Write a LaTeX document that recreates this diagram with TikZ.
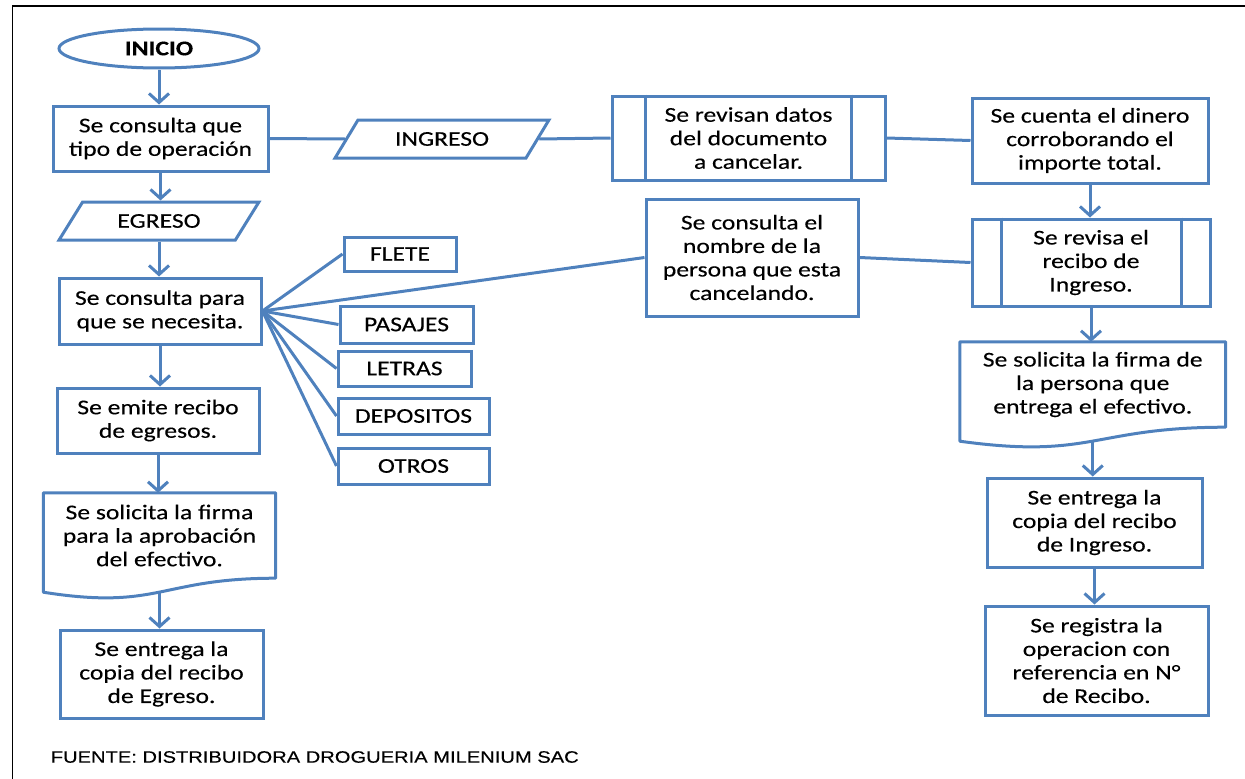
\documentclass[tikz,border=0pt]{standalone}
\usepackage{fontspec}
\setmainfont{Carlito}[FakeStretch=1.22,FakeBold=0.3]
\newfontfamily\footfont{Liberation Sans}[FakeStretch=1.22,FakeBold=0.3]
\usetikzlibrary{shapes.geometric,arrows.meta,calc}
\definecolor{lnblue}{HTML}{4F81BD}
\begin{document}
\begin{tikzpicture}[x=1pt,y=-1pt,
  every node/.style={font=\fontsize{21}{23.5}\selectfont, text=black, align=center, inner sep=0pt},
  blueline/.style={draw=lnblue, line width=3pt},
  box/.style={blueline, rectangle},
  iobox/.style={blueline, trapezium, trapezium left angle=47, trapezium right angle=133, trapezium stretches=true},
  docbox/.style={rectangle, draw=none},
  flow/.style={blueline, -{Straight Barb[length=9pt,width=20pt]}},
  termbox/.style={blueline, ellipse}
]
\useasboundingbox (0,0) rectangle (1245,779);
% frame (cropped)
\draw[black, line width=1.4pt] (12.5,779) -- (12.5,6) -- (1245,6);

% left column
\node[termbox, minimum width=200, minimum height=39, font=\bfseries\fontsize{21}{23.5}\selectfont] (inicio) at (159,48.5) {INICIO};
\node[box, minimum width=215, minimum height=65] (b1) at (160.5,138.5) {Se consulta que\\tipo de operación};
\node[iobox, minimum width=200, minimum height=38] (egreso) at (159,221) {EGRESO};
\node[box, minimum width=202, minimum height=66] (para) at (160,311) {Se consulta para\\que se necesita.};
\node[box, minimum width=202, minimum height=65] (emite) at (158,420.5) {Se emite recibo\\de egresos.};
\node[docbox, minimum width=232, minimum height=85] (d1) at (159.5,535.5) {Se solicita la firma\\para la aprobación\\del efectivo.};
\draw[blueline, line join=round] ($(d1.south west)+(0,14)$) -- (d1.north west) -- (d1.north east) -- (d1.south east)
  .. controls ($(d1.south)+(0,0)$) and ($(d1.south)+(0,32.4)$) .. ($(d1.south west)+(0,14)$) -- cycle;
\coordinate (d1b) at ($(d1.south)+(0,14)$);
\node[box, minimum width=203, minimum height=88] (e1) at (161.5,674) {Se entrega la\\copia del recibo\\de Egreso.};

% options
\node[box, minimum width=112, minimum height=34] (flete) at (400,254) {FLETE};
\node[box, minimum width=133, minimum height=37] (pasajes) at (406.5,324.5) {PASAJES};
\node[box, minimum width=133, minimum height=35] (letras) at (404.5,368.5) {LETRAS};
\node[box, minimum width=151, minimum height=36] (depositos) at (413.5,416) {DEPOSITOS};
\node[box, minimum width=151, minimum height=36] (otros) at (413.5,466) {OTROS};

% middle / right
\node[iobox, minimum width=214, minimum height=38] (ingreso) at (442,139) {INGRESO};
\node[box, minimum width=273, minimum height=84] (rev) at (748.5,138) {Se revisan datos\\del documento\\a cancelar.};
\draw[blueline] ($(rev.north west)+(34.5,0)$) -- ($(rev.south west)+(34.5,0)$);
\draw[blueline] ($(rev.north east)+(-35,0)$) -- ($(rev.south east)+(-35,0)$);
\node[box, minimum width=236, minimum height=85] (cuenta) at (1090,140.5) {Se cuenta el dinero\\corroborando el\\importe total.};
\node[box, minimum width=212, minimum height=117] (nombre) at (752,257.5) {Se consulta el\\nombre de la\\persona que esta\\cancelando.};
\node[box, minimum width=238, minimum height=87] (revisa) at (1091,262.5) {Se revisa el\\recibo de\\Ingreso.};
\draw[blueline] ($(revisa.north west)+(30.5,0)$) -- ($(revisa.south west)+(30.5,0)$);
\draw[blueline] ($(revisa.north east)+(-30,0)$) -- ($(revisa.south east)+(-30,0)$);
\node[docbox, minimum width=265.5, minimum height=85] (d2) at (1092.75,384.5) {Se solicita la firma de\\la persona que\\entrega el efectivo.};
\draw[blueline, line join=round] ($(d2.south west)+(0,14)$) -- (d2.north west) -- (d2.north east) -- (d2.south east)
  .. controls ($(d2.south)+(0,0)$) and ($(d2.south)+(0,32.4)$) .. ($(d2.south west)+(0,14)$) -- cycle;
\coordinate (d2b) at ($(d2.south)+(0,14)$);
\node[box, minimum width=215, minimum height=89] (e2) at (1094.5,522.5) {Se entrega la\\copia del recibo\\de Ingreso.};
\node[box, minimum width=223, minimum height=109] (reg) at (1096.5,660.5) {Se registra la\\operacion con\\referencia en N°\\de Recibo.};

% footer
\node[anchor=west, font=\footfont\fontsize{16.5}{19}\selectfont] (src) at (50.6,757) {FUENTE: DISTRIBUIDORA DROGUERIA MILENIUM SAC};

% arrows left column
\draw[flow] (inicio.south) -- (inicio.south |- b1.north);
\draw[flow] (b1.south) -- (b1.south |- egreso.north);
\draw[flow] (egreso.south) -- (egreso.south |- para.north);
\draw[flow] (para.south) -- (para.south |- emite.north);
\draw[flow] (emite.south) -- (emite.south |- d1.north);
\draw[flow] (d1b) -- (d1b |- e1.north);

% fan
\draw[blueline] (para.east) -- (flete.west);
\draw[blueline] (para.east) -- (nombre.west);
\draw[blueline] (para.east) -- (pasajes.west);
\draw[blueline] (para.east) -- (letras.west);
\draw[blueline] (para.east) -- (depositos.west);
\draw[blueline] (para.east) -- (otros.west);

% top chain
\draw[blueline] (b1.east) -- (ingreso.west);
\draw[blueline] (ingreso.east) -- (rev.west);
\draw[blueline] (rev.east) -- (cuenta.west);
\draw[blueline] (nombre.east) -- (revisa.west);

% arrows right column
\draw[flow] (cuenta.south) -- (cuenta.south |- revisa.north);
\draw[flow] (revisa.south) -- (revisa.south |- d2.north);
\draw[flow] (d2b) -- (d2b |- e2.north);
\draw[flow] (e2.south) -- (e2.south |- reg.north);
\end{tikzpicture}
\end{document}
